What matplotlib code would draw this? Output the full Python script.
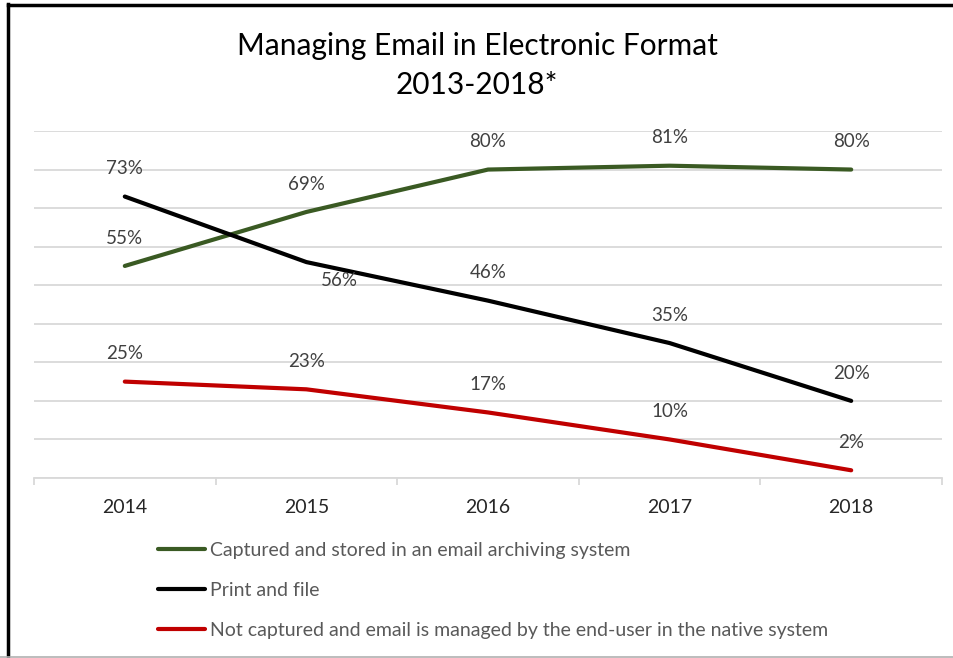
import matplotlib as mpl
mpl.use('Agg')
import matplotlib.pyplot as plt
from matplotlib.lines import Line2D

years = ['2014', '2015', '2016', '2017', '2018']
archived = [55, 69, 80, 81, 80]
printed = [73, 56, 46, 35, 20]
not_captured = [25, 23, 17, 10, 2]

names = ['Captured and stored in an email archiving system',
         'Print and file',
         'Not captured and email is managed by the end-user in the native system']
colors = ['#3a5a23', '#000000', '#c00000']

plt.rcParams['font.family'] = ['Lato', 'DejaVu Sans']

fig = plt.figure(figsize=(9.54, 6.58), dpi=100)
W, H = 954.0, 658.0
ax = fig.add_axes([34 / W, 1 - 478 / H, (942 - 34) / W, (478 - 131) / H])

xs = list(range(len(years)))
series = [archived, printed, not_captured]
for vals, col, name in zip(series, colors, names):
  ax.plot(xs, vals, color=col, lw=3.0, solid_capstyle='round', label=name, zorder=3)

# data labels, mostly above the point
for vals in series:
  for i, v in enumerate(vals):
    off = (0, 20)
    if vals is printed and i == 1:
      off = (24, -13)
    ax.annotate('%d%%' % v, (i, v), xytext=off, textcoords='offset points',
                ha='center', va='center', fontsize=13.5, color='#404040')

ax.set_xlim(-0.5, len(years) - 0.5)
ax.set_ylim(0, 90)
ax.set_yticks(range(0, 91, 10))
ax.yaxis.grid(True, color='#d9d9d9', lw=1.3)
ax.set_axisbelow(True)
ax.tick_params(axis='y', left=False, labelleft=False)
ax.set_xticks(xs)
ax.set_xticklabels(years, fontsize=14, color='#262626')
ax.set_xticks([x + 0.5 for x in [-1] + xs], minor=True)
ax.tick_params(axis='x', which='major', length=0, pad=15)
ax.tick_params(axis='x', which='minor', length=5, color='#d9d9d9', width=1.3)
for s in ['top', 'right', 'left']:
  ax.spines[s].set_visible(False)
ax.spines['bottom'].set_color('#d9d9d9')
ax.spines['bottom'].set_linewidth(1.3)

fig.text(0.5, 1 - 46 / H, 'Managing Email in Electronic Format', ha='center',
         va='center', fontsize=21.5, color='#000000')
fig.text(0.5, 1 - 85 / H, '2013-2018*', ha='center', va='center',
         fontsize=21.5, color='#000000')

handles = [Line2D([0], [0], color=c, lw=3.0, solid_capstyle='round') for c in colors]
leg = fig.legend(handles, names, loc='upper left', bbox_to_anchor=(158 / W, 1 - 542 / H),
                 frameon=False, fontsize=14, handlelength=2.4, handletextpad=0.25,
                 labelspacing=1.18, borderpad=0, borderaxespad=0)
for t in leg.get_texts():
  t.set_color('#595959')

# screenshot frame
fig.add_artist(Line2D([8 / W, 8 / W], [0, 1 - 4 / H], color='black', lw=2.5))
fig.add_artist(Line2D([8 / W, 1], [1 - 5 / H, 1 - 5 / H], color='black', lw=2.5))
fig.add_artist(Line2D([0, 1], [1 / H, 1 / H], color='#b0b0b0', lw=1.2))

plt.savefig('out.png', dpi=100)
